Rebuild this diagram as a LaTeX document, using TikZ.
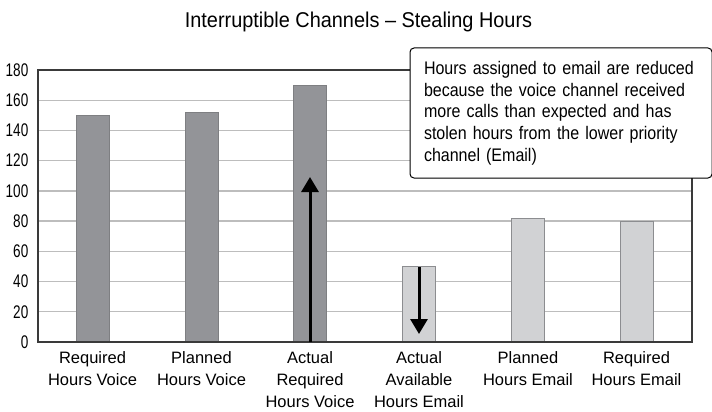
\documentclass[tikz,border=0pt]{standalone}
\usepackage{fontspec}
\setmainfont{Liberation Sans}
\newfontfamily\titlefont{Liberation Sans}[FakeStretch=0.93]
\newfontfamily\notefont{Liberation Sans}[FakeStretch=0.88]
\newfontfamily\catfont{Liberation Sans}[FakeStretch=1.0]
\newfontfamily\tickfont{Liberation Sans}[FakeStretch=0.74]
\usetikzlibrary{arrows.meta}
\definecolor{darkbar}{HTML}{939498}
\definecolor{darkedge}{HTML}{7E7F82}
\definecolor{lightbar}{HTML}{D1D2D4}
\definecolor{lightedge}{HTML}{8C8D90}
\definecolor{gridgray}{HTML}{BDBDBD}
\definecolor{axisgray}{HTML}{3A3A3A}
\tikzset{
  gridline/.style={gridgray, line width=1.4pt},
  frameline/.style={axisgray, line width=1.2pt},
  baseline/.style={axisgray, line width=2pt},
  voicebar/.style={fill=darkbar, draw=darkedge, line width=1pt},
  emailbar/.style={fill=lightbar, draw=lightedge, line width=1pt},
  ticklabel/.style={anchor=east, inner sep=0pt, font=\tickfont\fontsize{18.3}{20}\selectfont},
  catlabel/.style={anchor=north, align=center, inner sep=0pt, font=\catfont\fontsize{16.5}{22}\selectfont},
  titletext/.style={anchor=base, inner sep=0pt, font=\titlefont\fontsize{21.4}{24}\selectfont},
  callout/.style={draw=black, fill=white, line width=1pt, rounded corners=4pt,
    minimum width=302pt, minimum height=130pt, inner xsep=14pt, inner ysep=0pt,
    text width=274pt, align=left, font=\notefont\fontsize{18.2}{21.7}\selectfont},
  moveline/.style={black, line width=3pt, -{Triangle[length=15pt, width=17pt]}}
}
\newcommand{\valy}[1]{342-#1*1.51111}
\begin{document}
\begin{tikzpicture}[x=1pt, y=-1pt]
  \useasboundingbox (0,0) rectangle (712,412);
  % title
  \node[titletext] (title) at (358.5,27.7) {Interruptible Channels – Stealing Hours};
  % horizontal grid and tick labels
  \foreach \v in {20,40,...,160} {
    \draw[gridline] (38,{\valy{\v}}) -- (692,{\valy{\v}});
  }
  \foreach \v in {0,20,...,180} {
    \node[ticklabel] (tick\v) at (28.5,{\valy{\v}}) {\v};
  }
  % plot frame
  \draw[frameline] (38,342) -- (38,70) -- (692,70) -- (692,342);
  % bars
  \foreach \cx/\val/\sty [count=\i] in {92.5/150/voicebar, 201.5/152/voicebar, 310/170/voicebar,
      419/50/emailbar, 528/82/emailbar, 636.5/80/emailbar} {
    \draw[\sty] ({\cx-16.5},342) rectangle ({\cx+16.5},{\valy{\val}});
    \coordinate (bar\i) at (\cx,342);
  }
  \draw[baseline] (37,342) -- (693,342);
  % category labels
  \node[catlabel] (c1) at (92.5,351.5) {Required\\Hours Voice};
  \node[catlabel] (c2) at (201.5,351.5) {Planned\\Hours Voice};
  \node[catlabel] (c3) at (310,351.5) {Actual\\Required\\Hours Voice};
  \node[catlabel] (c4) at (419,351.5) {Actual\\Available\\Hours Email};
  \node[catlabel] (c5) at (528,351.5) {Planned\\Hours Email};
  \node[catlabel] (c6) at (636.5,351.5) {Required\\Hours Email};
  % arrows showing hours moving from email to voice
  \coordinate (upfrom) at (310,342);
  \coordinate (upto) at (310,177);
  \coordinate (downfrom) at (419,267);
  \coordinate (downto) at (419,334);
  \draw[moveline] (upfrom) -- (upto);
  \draw[moveline] (downfrom) -- (downto);
  % explanatory callout
  \node[callout, anchor=north west] (note) at (409.5,47.5)
    {Hours assigned to email are reduced\\because the voice channel received\\more calls than expected and has\\stolen hours from the lower priority\\channel (Email)};
\end{tikzpicture}
\end{document}
